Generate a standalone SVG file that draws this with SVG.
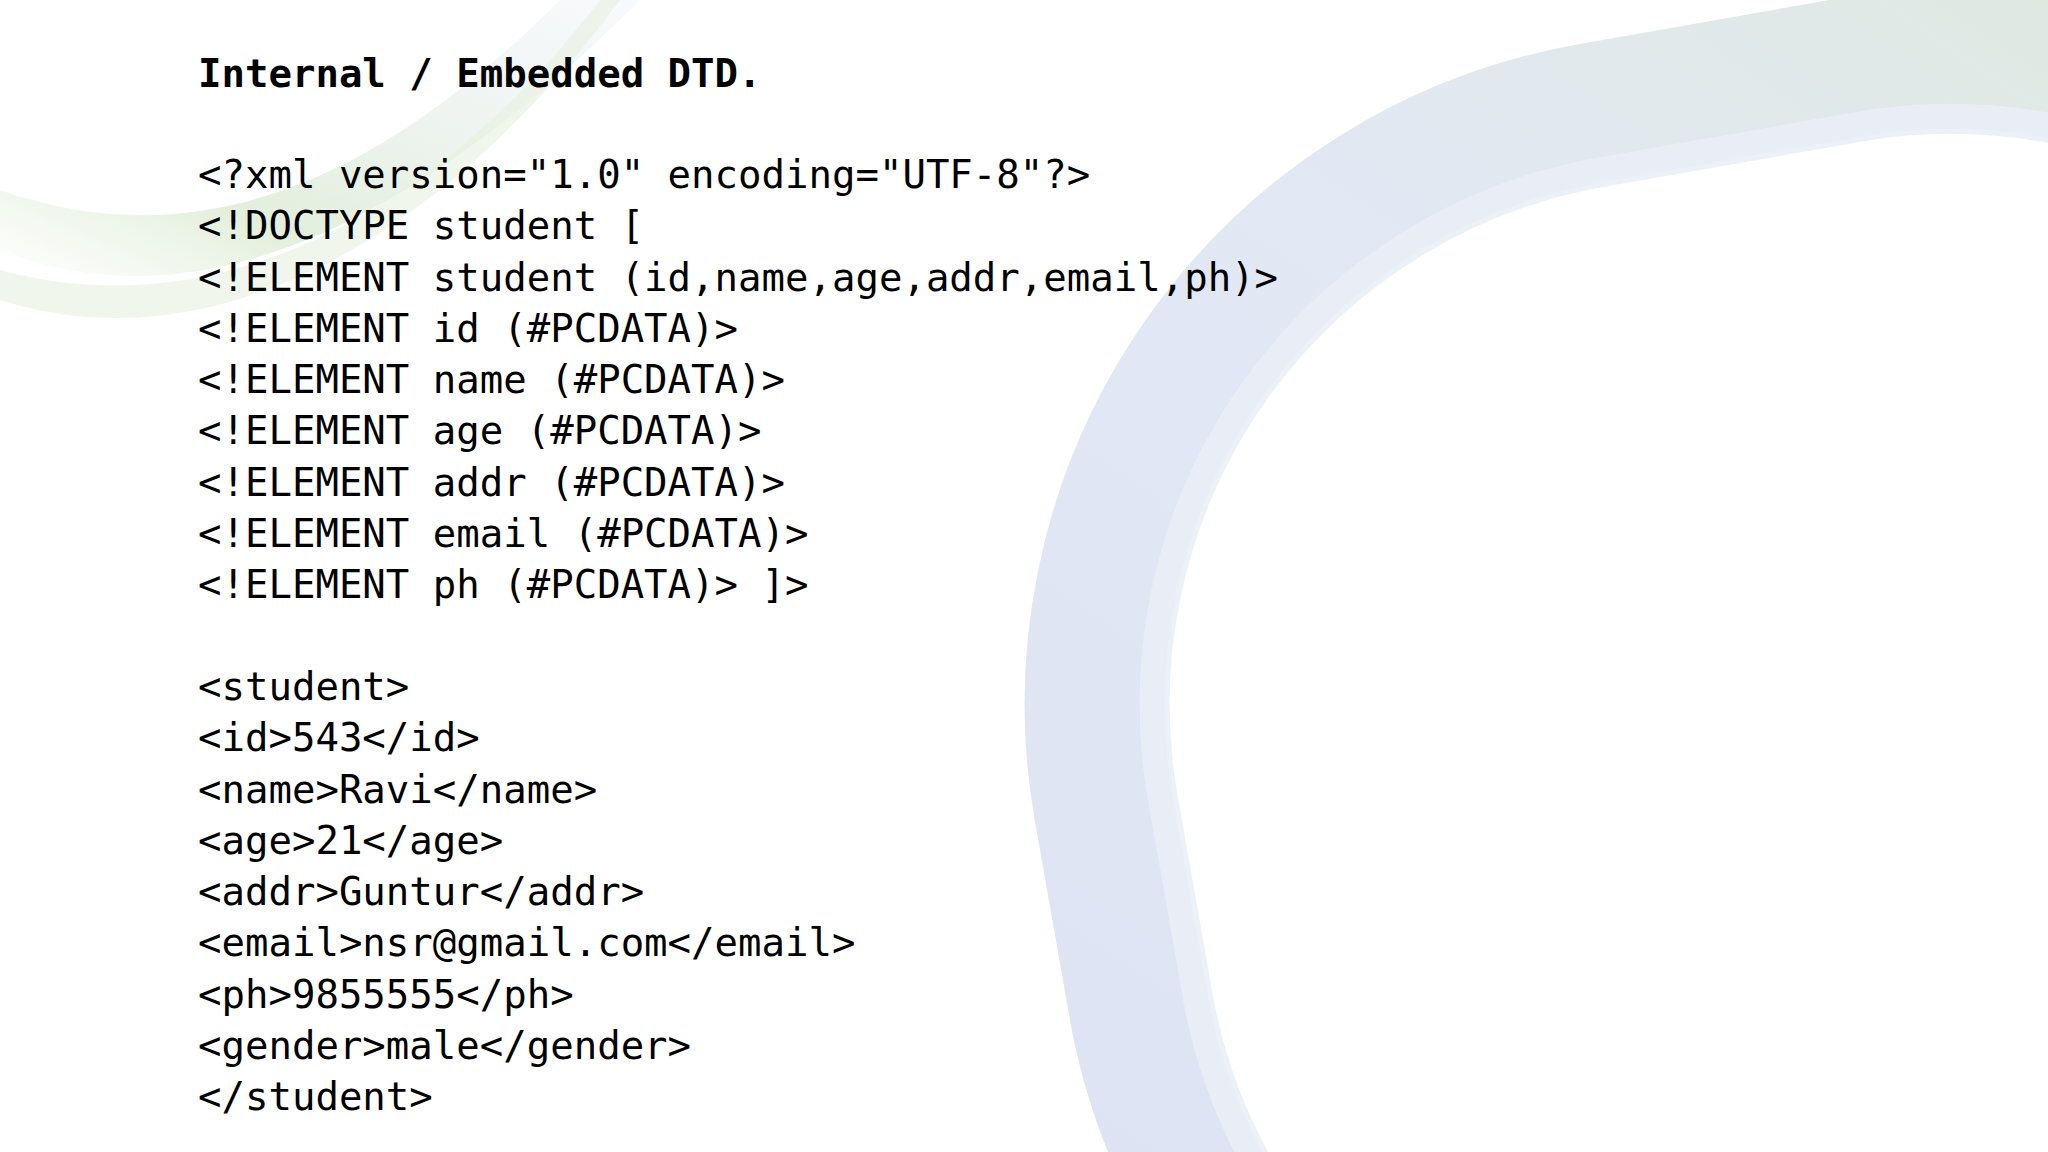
<svg xmlns="http://www.w3.org/2000/svg" width="2048" height="1152" viewBox="0 0 2048 1152">
<defs>
<linearGradient id="ring" x1="0" y1="1" x2="1" y2="0">
<stop offset="0" stop-color="#d3dbef"/>
<stop offset="0.6" stop-color="#dbe2f1"/>
<stop offset="1" stop-color="#d5e5d2"/>
</linearGradient>
<linearGradient id="grn" x1="0" y1="1" x2="1" y2="0">
<stop offset="0" stop-color="#dcebd2" stop-opacity="0"/>
<stop offset="0.3" stop-color="#d6e8cc"/>
<stop offset="1" stop-color="#dfe6f2" stop-opacity="0.3"/>
</linearGradient>
<style>
.t{font-family:"DejaVu Sans Mono","Liberation Mono",monospace;font-size:39px;fill:#000}
.b{font-weight:bold}
</style>
</defs>
<rect width="2048" height="1152" fill="#fff"/>
<g id="background">
<path d="M0 250 C200 330 420 220 640 0 L560 0 C380 180 200 260 0 190 Z" fill="url(#grn)" opacity="0.7"/>
<path d="M0 300 C220 370 450 230 620 0 L600 0 C440 210 220 330 0 270 Z" fill="#e8f0e0" opacity="0.6"/>
<rect x="1110" y="80" width="1460" height="1400" rx="600" ry="600" fill="none" stroke="url(#ring)" stroke-width="140" transform="rotate(-10 1840 780)" opacity="0.8"/>
<rect x="1170" y="140" width="1340" height="1280" rx="540" ry="540" fill="none" stroke="#eaeef6" stroke-width="30" transform="rotate(-10 1840 780)" opacity="0.9"/>
</g>
<g id="text">
<text class="t b" x="198" y="87">Internal / Embedded DTD.</text>
<text class="t" x="198" y="188">&lt;?xml version="1.0" encoding="UTF-8"?&gt;</text>
<text class="t" x="198" y="239">&lt;!DOCTYPE student [</text>
<text class="t" x="198" y="291">&lt;!ELEMENT student (id,name,age,addr,email,ph)&gt;</text>
<text class="t" x="198" y="342">&lt;!ELEMENT id (#PCDATA)&gt;</text>
<text class="t" x="198" y="393">&lt;!ELEMENT name (#PCDATA)&gt;</text>
<text class="t" x="198" y="444">&lt;!ELEMENT age (#PCDATA)&gt;</text>
<text class="t" x="198" y="496">&lt;!ELEMENT addr (#PCDATA)&gt;</text>
<text class="t" x="198" y="547">&lt;!ELEMENT email (#PCDATA)&gt;</text>
<text class="t" x="198" y="598">&lt;!ELEMENT ph (#PCDATA)&gt; ]&gt;</text>
<text class="t" x="198" y="700">&lt;student&gt;</text>
<text class="t" x="198" y="751">&lt;id&gt;543&lt;/id&gt;</text>
<text class="t" x="198" y="803">&lt;name&gt;Ravi&lt;/name&gt;</text>
<text class="t" x="198" y="854">&lt;age&gt;21&lt;/age&gt;</text>
<text class="t" x="198" y="905">&lt;addr&gt;Guntur&lt;/addr&gt;</text>
<text class="t" x="198" y="956">&lt;email&gt;nsr@gmail.com&lt;/email&gt;</text>
<text class="t" x="198" y="1008">&lt;ph&gt;9855555&lt;/ph&gt;</text>
<text class="t" x="198" y="1059">&lt;gender&gt;male&lt;/gender&gt;</text>
<text class="t" x="198" y="1110">&lt;/student&gt;</text>
</g>
</svg>
